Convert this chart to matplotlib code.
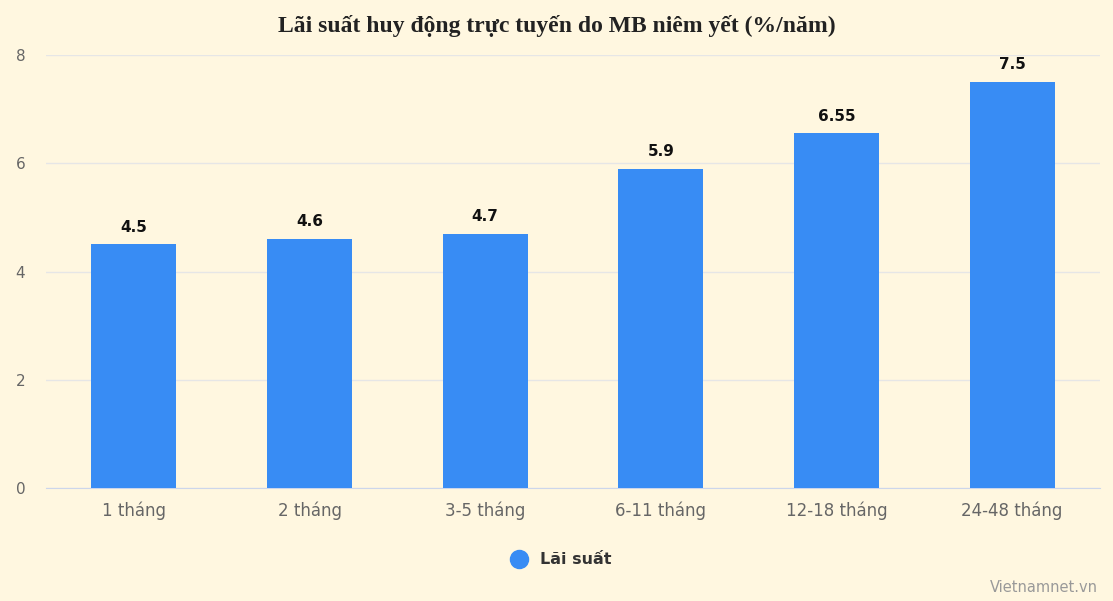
import matplotlib
matplotlib.use("Agg")
import matplotlib.pyplot as plt
from matplotlib.lines import Line2D

categories = ["1 tháng", "2 tháng", "3-5 tháng", "6-11 tháng", "12-18 tháng", "24-48 tháng"]
values = [4.5, 4.6, 4.7, 5.9, 6.55, 7.5]
labels = ["4.5", "4.6", "4.7", "5.9", "6.55", "7.5"]
yticks = [0, 2, 4, 6, 8]

bg = "#fff7e0"
bar_color = "#388cf4"

fig = plt.figure(figsize=(11.13, 6.01), dpi=100, facecolor=bg)
ax = fig.add_axes([46 / 1113, 113 / 601, 1054 / 1113, 433 / 601])
ax.set_facecolor(bg)

x = list(range(len(categories)))
ax.bar(x, values, width=0.485, color=bar_color, zorder=3)
for xi, v, lab in zip(x, values, labels):
    ax.annotate(lab, (xi, v), xytext=(0, 7), textcoords="offset points",
                ha="center", va="bottom", fontsize=11, fontweight="bold",
                color="#111111")

ax.set_xlim(-0.5, len(categories) - 0.5)
ax.set_ylim(0, 8)
ax.set_yticks(yticks)
ax.set_yticklabels([str(t) for t in yticks])
ax.set_xticks(x)
ax.set_xticklabels(categories)
ax.grid(axis="y", color="#e6e6e6", linewidth=1, zorder=0)
for s in ["top", "right", "left"]:
    ax.spines[s].set_visible(False)
ax.spines["bottom"].set_color("#ccd6eb")
ax.tick_params(axis="y", length=0, pad=15, labelsize=11, labelcolor="#666666")
ax.tick_params(axis="x", length=0, pad=10, labelsize=12, labelcolor="#666666")

fig.text(0.5, 1 - 26 / 601, "Lãi suất huy động trực tuyến do MB niêm yết (%/năm)",
         ha="center", va="center", fontsize=17, fontweight="bold",
         family="Liberation Serif", color="#222222")

# legend
fig.add_artist(Line2D([519 / 1113], [1 - 559 / 601], marker="o", markersize=13,
                      color=bar_color, linestyle="none", transform=fig.transFigure))
fig.text(540 / 1113, 1 - 559 / 601, "Lãi suất", ha="left", va="center",
         fontsize=11.5, fontweight="bold", color="#333333")

fig.text(1098 / 1113, 1 - 588 / 601, "Vietnamnet.vn", ha="right", va="center",
         fontsize=10.5, color="#999999")

fig.savefig("out.png", dpi=100, facecolor=bg)
